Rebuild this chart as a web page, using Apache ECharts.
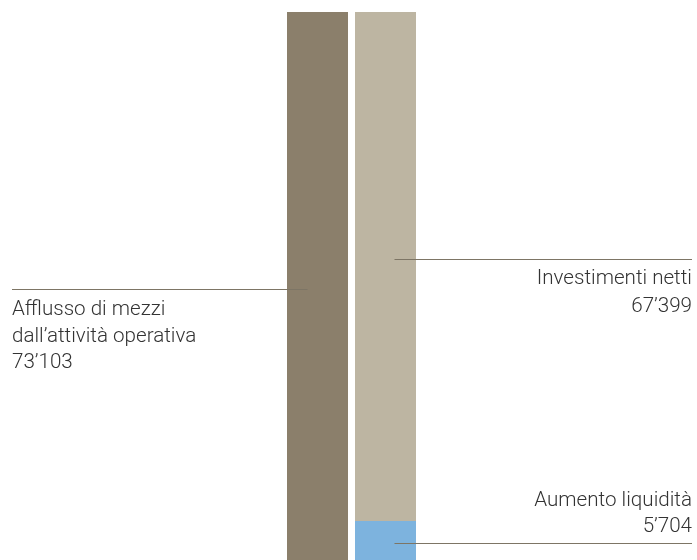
<!DOCTYPE html>
<html>
<head>
<meta charset="utf-8">
<script src="https://cdn.jsdelivr.net/npm/echarts@6/dist/echarts.min.js"></script>
<style>html,body{margin:0;padding:0;background:#fff}#c{width:697px;height:560px}</style>
</head>
<body>
<div id="c"></div>
<script>
const categories = ['Fonti', 'Impieghi'];
const afflussoValues = [73103, null];
const aumentoValues = [null, 5704];
const investimentiValues = [null, 67399];
const labelAfflusso = ['Afflusso di mezzi', 'dall\u2019attività operativa', '73\u2019103'];
const labelInvestimenti = ['Investimenti netti', '67\u2019399'];
const labelAumento = ['Aumento liquidità', '5\u2019704'];

const chart = echarts.init(document.getElementById('c'), null, {renderer: 'canvas'});
const FONT = 'Roboto, "Helvetica Neue", Arial, sans-serif';
chart.setOption({
  animation: false,
  grid: {left: 283.5, width: 136, top: 12, bottom: -4, containLabel: false, outerBoundsMode: 'none'},
  xAxis: {type: 'category', data: categories, show: false},
  yAxis: {type: 'value', min: 0, max: 73103, show: false},
  series: [
    {name: 'Afflusso', type: 'bar', stack: 'a', data: afflussoValues, barWidth: 61, itemStyle: {color: '#8b7f6b'}},
    {name: 'Aumento', type: 'bar', stack: 'b', data: aumentoValues, barWidth: 61, barGap: '-100%', itemStyle: {color: '#7db3de'}},
    {name: 'Investimenti', type: 'bar', stack: 'b', data: investimentiValues, barWidth: 61, itemStyle: {color: '#bdb5a2'}}
  ]
});

function px(cat, val) { return chart.convertToPixel({gridIndex: 0}, [cat, val]); }
const lineColor = '#7d7565';
const textColor = '#333333';
const els = [];
const font = '300 20.6px ' + FONT;
// Left: pointer at middle of Afflusso bar
const pA = px(categories[0], afflussoValues[0] * 0.498);
const yA = Math.round(pA[1]) + 0.5;
els.push({type: 'line', z: 100, shape: {x1: 12, y1: yA, x2: pA[0] - 10, y2: yA}, style: {stroke: lineColor, lineWidth: 1}, silent: true});
els.push({type: 'text', z: 100, x: 12, y: yA + 7.5, style: {text: labelAfflusso.join('\n'), font: font, fill: textColor, lineHeight: 26.5, textAlign: 'left', textVerticalAlign: 'top'}});
// Right: Investimenti
const pI = px(categories[1], aumentoValues[1] + investimentiValues[1] * 0.515);
const yI = Math.round(pI[1]) + 0.5;
els.push({type: 'line', z: 100, shape: {x1: pI[0] + 9, y1: yI, x2: 692, y2: yI}, style: {stroke: lineColor, lineWidth: 1}, silent: true});
els.push({type: 'text', z: 100, x: 692, y: yI + 5, style: {text: labelInvestimenti.join('\n'), font: font, fill: textColor, lineHeight: 28, textAlign: 'right', textVerticalAlign: 'top'}});
// Right: Aumento
const pU = px(categories[1], aumentoValues[1] * 0.49);
const yU = Math.round(pU[1]) + 0.5;
els.push({type: 'line', z: 100, shape: {x1: pU[0] + 9, y1: yU, x2: 692, y2: yU}, style: {stroke: lineColor, lineWidth: 1}, silent: true});
els.push({type: 'text', z: 100, x: 692, y: yU - 4, style: {text: labelAumento.join('\n'), font: font, fill: textColor, lineHeight: 26, textAlign: 'right', textVerticalAlign: 'bottom'}});
chart.setOption({graphic: {elements: els}});
</script>
</body>
</html>
